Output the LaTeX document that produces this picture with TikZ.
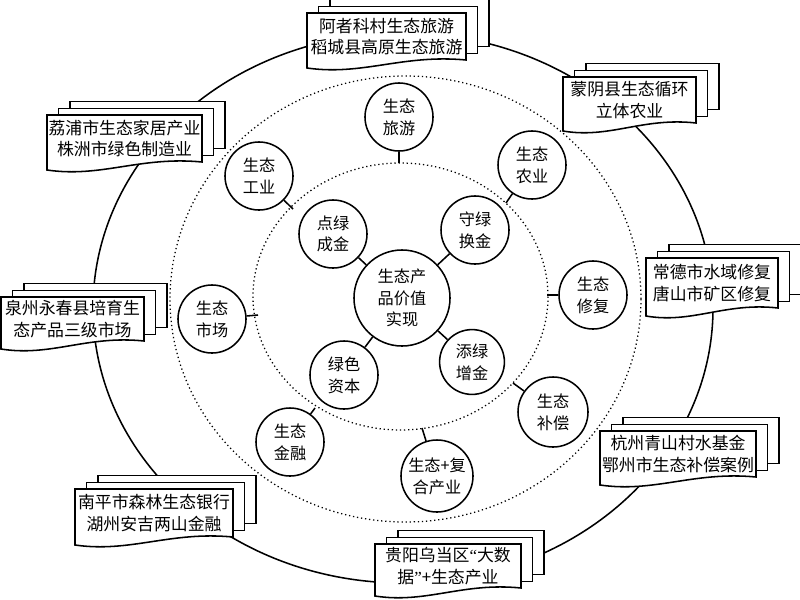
\documentclass[tikz,border=0pt]{standalone}
\usepackage{fontspec}
\setmainfont{Noto Sans CJK SC}
\newfontfamily\quotefont{Liberation Serif}

\tikzset{
  eco/.style={circle, draw, fill=white, line width=1.1pt, minimum size=1.7cm,
    inner sep=0pt, align=center, font=\fontsize{11.5}{15.5}\selectfont},
  hub/.style={eco, minimum size=2.4cm},
  casetext/.style={align=center, inner sep=0pt, font=\fontsize{12}{15.5}\selectfont},
  stackline/.style={draw, fill=white, line width=1.1pt},
  ring/.style={dotted, line width=0.9pt},
  link/.style={line width=1.1pt},
}

% three sheets: left, top, right, height
\newcommand{\casestack}[4]{%
  \filldraw[stackline] (#1+23,#2-13.4) rectangle (#3+23,#2-13.4+#4);
  \filldraw[stackline] (#1+11.5,#2-6.7) rectangle (#3+11.5,#2-6.7+#4);
  \filldraw[stackline] (#1,#2) -- (#3,#2) -- (#3,#2+#4)
    .. controls (#1+0.6*#3-0.6*#1,#2+#4-6) and (#1+0.35*#3-0.35*#1,#2+#4+16) .. (#1,#2+#4+8) -- cycle;
}

\begin{document}
\begin{tikzpicture}[x=0.025cm, y=-0.025cm]
  \useasboundingbox (0,0) rectangle (800,599);

  % rings
  \draw[link] (403,308) ellipse (310 and 275);
  \draw[ring] (405.5,299) ellipse (235.5 and 223);
  \draw[ring] (400.5,296.5) ellipse (147.5 and 133.5);

  % centre and first ring
  \node[hub] (hub) at (402,298) {生态产\\品价值\\实现};
  \node[eco] (dianlv) at (333,234) {点绿\\成金};
  \node[eco] (shoulv) at (475,230) {守绿\\换金};
  \node[eco, minimum size=1.62cm] (tianlv) at (472,362) {添绿\\增金};
  \node[eco] (lvse) at (344,375) {绿色\\资本};
  \foreach \n in {dianlv,shoulv,tianlv,lvse}
    \draw[link] (\n) -- (hub);

  % second ring
  \node[eco] (lvyou) at (399,117) {生态\\旅游};
  \node[eco] (gongye) at (259,176) {生态\\工业};
  \node[eco] (nongye) at (532,165) {生态\\农业};
  \node[eco] (xiufu) at (593,295) {生态\\修复};
  \node[eco, minimum size=1.75cm] (buchang) at (553,412) {生态\\补偿};
  \node[eco, minimum size=1.8cm] (fuhe) at (437,476) {生态+复\\合产业};
  \node[eco] (jinrong) at (290,442) {生态\\金融};
  \node[eco] (shichang) at (212,319) {生态\\市场};

  \coordinate (lvyou-r) at (399,163);
  \coordinate (gongye-r) at (293,209);
  \coordinate (nongye-r) at (506,203);
  \coordinate (xiufu-r) at (547,295);
  \coordinate (buchang-r) at (513,383);
  \coordinate (fuhe-r) at (422,428);
  \coordinate (jinrong-r) at (315,408);
  \coordinate (shichang-r) at (258,315);
  \foreach \n in {lvyou,gongye,nongye,xiufu,buchang,fuhe,jinrong,shichang}
    \draw[link] (\n) -- (\n-r);

  % cases
  \casestack{307}{13}{466}{47}
  \node[casetext] (c-lvyou) at (386.5,36.5) {阿者科村生态旅游\\稻城县高原生态旅游};
  \casestack{47}{115}{202}{47}
  \node[casetext] (c-gongye) at (124.5,138.5) {荔浦市生态家居产业\\株洲市绿色制造业};
  \casestack{563}{77}{696}{46}
  \node[casetext] (c-nongye) at (629.5,100) {蒙阴县生态循环\\立体农业};
  \casestack{646}{258}{778}{50}
  \node[casetext] (c-xiufu) at (712,283) {常德市水域修复\\唐山市矿区修复};
  \casestack{1}{297}{144}{44}
  \node[casetext] (c-shichang) at (72.5,319) {泉州永春县培育生\\态产品三级市场};
  \casestack{600}{431}{756}{46}
  \node[casetext] (c-buchang) at (678,454) {杭州青山村水基金\\鄂州市生态补偿案例};
  \casestack{75}{489}{233}{48}
  \node[casetext] (c-jinrong) at (154,513) {南平市森林生态银行\\湖州安吉两山金融};
  \casestack{375}{544}{521}{44}
  \node[casetext] (c-fuhe) at (448,566) {贵阳乌当区{\quotefont “}大数\\据{\quotefont ”}+生态产业};
\end{tikzpicture}
\end{document}
